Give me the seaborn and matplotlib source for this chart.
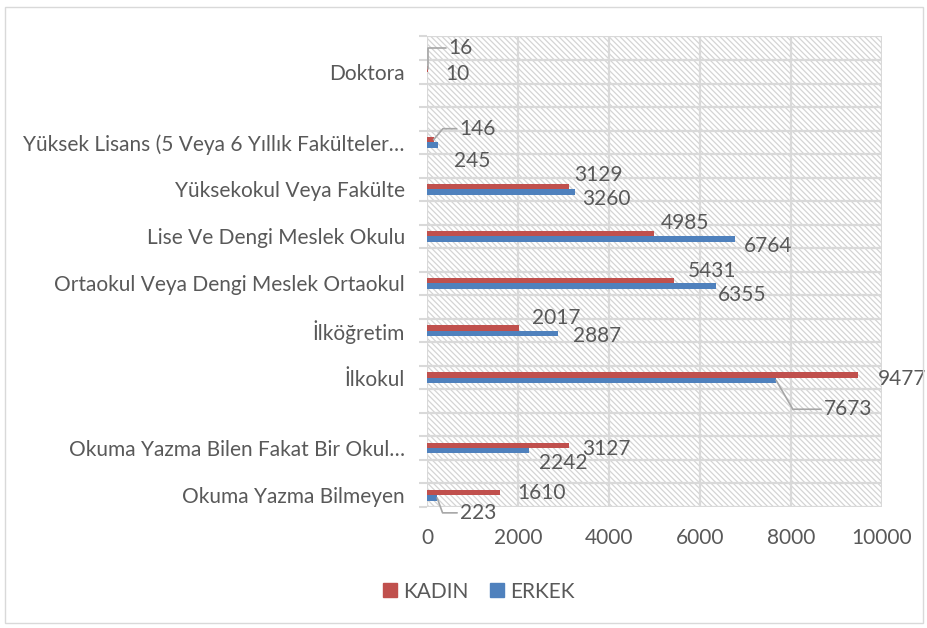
import pandas as pd
import numpy as np
import matplotlib
matplotlib.use("Agg")
import matplotlib.pyplot as plt
from matplotlib.patches import Rectangle
from matplotlib.lines import Line2D
import seaborn as sns

# rows of the sheet, top to bottom (blank rows kept as in the source table)
rows = ["", "Doktora", "", "", "Yüksek Lisans (5 Veya 6 Yıllık Fakülteler…", "",
        "Yüksekokul Veya Fakülte", "", "Lise Ve Dengi Meslek Okulu", "",
        "Ortaokul Veya Dengi Meslek Ortaokul", "", "İlköğretim", "", "İlkokul", "", "",
        "Okuma Yazma Bilen Fakat Bir Okul…", "", "Okuma Yazma Bilmeyen"]
kadin = [None, 16, None, None, 146, None, 3129, None, 4985, None,
         5431, None, 2017, None, 9477, None, None, 3127, None, 1610]
erkek = [None, 10, None, None, 245, None, 3260, None, 6764, None,
         6355, None, 2887, None, 7673, None, None, 2242, None, 223]
series = ["KADIN", "ERKEK"]
colors = ["#C0504D", "#4F81BD"]
xticks = [0, 2000, 4000, 6000, 8000, 10000]

# label offsets in pixels (dx, dy up) from bar end, and leader angle (None = no leader)
label_pos = {
    "KADIN": [(33, 21, 90), (44, 11, 50), (29, 12, None), (31, 11, None), (38, 10, None),
              (38, 10, None), (44, -4, None), (37, -3, None), (41, 0, None)],
    "ERKEK": [(30, 0, None), (34, -16, None), (31, -7, None), (33, -7, None), (26, -9, None),
              (39, -3, None), (72, -29, -60), (34, -12, None), (41, -15, -70)],
}

keys = [f"r{i:02d}" for i in range(len(rows))]
recs = []
for k, a, b in zip(keys, kadin, erkek):
    if a is not None:
        recs.append((k, "KADIN", a))
    if b is not None:
        recs.append((k, "ERKEK", b))
df = pd.DataFrame(recs, columns=["row", "cinsiyet", "sayi"])

txt = "#595959"
grid = "#D9D9D9"
plt.rcParams["font.family"] = ["Lato", "DejaVu Sans"]
plt.rcParams["font.size"] = 15
plt.rcParams["hatch.linewidth"] = 0.9

fig = plt.figure(figsize=(9.28, 6.28), dpi=100)
ax = fig.add_axes([0.4601, 0.1927, 0.4903, 0.7492])

bg = Rectangle((0, 0), 1, 1, transform=ax.transAxes, facecolor="white",
               edgecolor="#D4D4D4", hatch="\\" * 6, lw=0, zorder=0)
ax.add_patch(bg)
ax.patch.set_visible(False)

sns.barplot(data=df, y="row", x="sayi", hue="cinsiyet", order=keys, hue_order=series,
            palette=colors, saturation=1, width=0.45, orient="h", errorbar=None,
            legend=False, ax=ax, zorder=3)

ax.set_xlim(0, 10000)
ax.set_ylim(len(rows) - 0.5, -0.5)
ax.set_xticks(xticks)
ax.set_xticklabels([str(t) for t in xticks], color=txt)
ax.tick_params(axis="x", length=0, pad=15)

lab_idx = [i for i, r in enumerate(rows) if r]
ax.set_yticks(lab_idx)
ax.set_yticklabels([rows[i] for i in lab_idx], color=txt)
ax.tick_params(axis="y", which="major", length=0, pad=16)
ax.set_yticks(np.arange(-0.5, len(rows)), minor=True)
ax.tick_params(axis="y", which="minor", length=6, width=1.5, color=grid)
ax.set_xlabel("")
ax.set_ylabel("")

for x in xticks:
    ax.axvline(x, color=grid, lw=1.6, zorder=1)
for y in np.arange(-0.5, len(rows)):
    ax.axhline(y, color=grid, lw=1.6, zorder=1)
for s in ax.spines.values():
    s.set_visible(False)

for cont, name in zip(ax.containers, series):
    for bar, (dx, dy, ang) in zip(cont, label_pos[name]):
        v = bar.get_width()
        yb = bar.get_y() + bar.get_height() / 2
        arrow = None
        if ang is not None:
            arrow = dict(arrowstyle="-", color="#A6A6A6", lw=1.2, shrinkA=0, shrinkB=0,
                         connectionstyle=f"angle,angleA=0,angleB={ang},rad=0")
        ax.annotate(f"{int(v)}", xy=(v, yb), xytext=(dx, dy), textcoords="offset pixels",
                    ha="center", va="center", color=txt, arrowprops=arrow,
                    annotation_clip=False, zorder=5)

handles = [Line2D([], [], marker="s", markersize=10, linestyle="none", color=c, label=s)
           for c, s in zip(colors, series)]
fig.legend(handles=handles, loc="center", bbox_to_anchor=(0.516, 0.058), ncol=2,
           frameon=False, handlelength=0.7, handletextpad=0.3,
           columnspacing=1.0, labelcolor=txt)

fig.add_artist(Rectangle((0.005, 0.008), 0.99, 0.981, transform=fig.transFigure,
                         fill=False, edgecolor=grid, lw=1))

fig.savefig("out.png", dpi=100)
